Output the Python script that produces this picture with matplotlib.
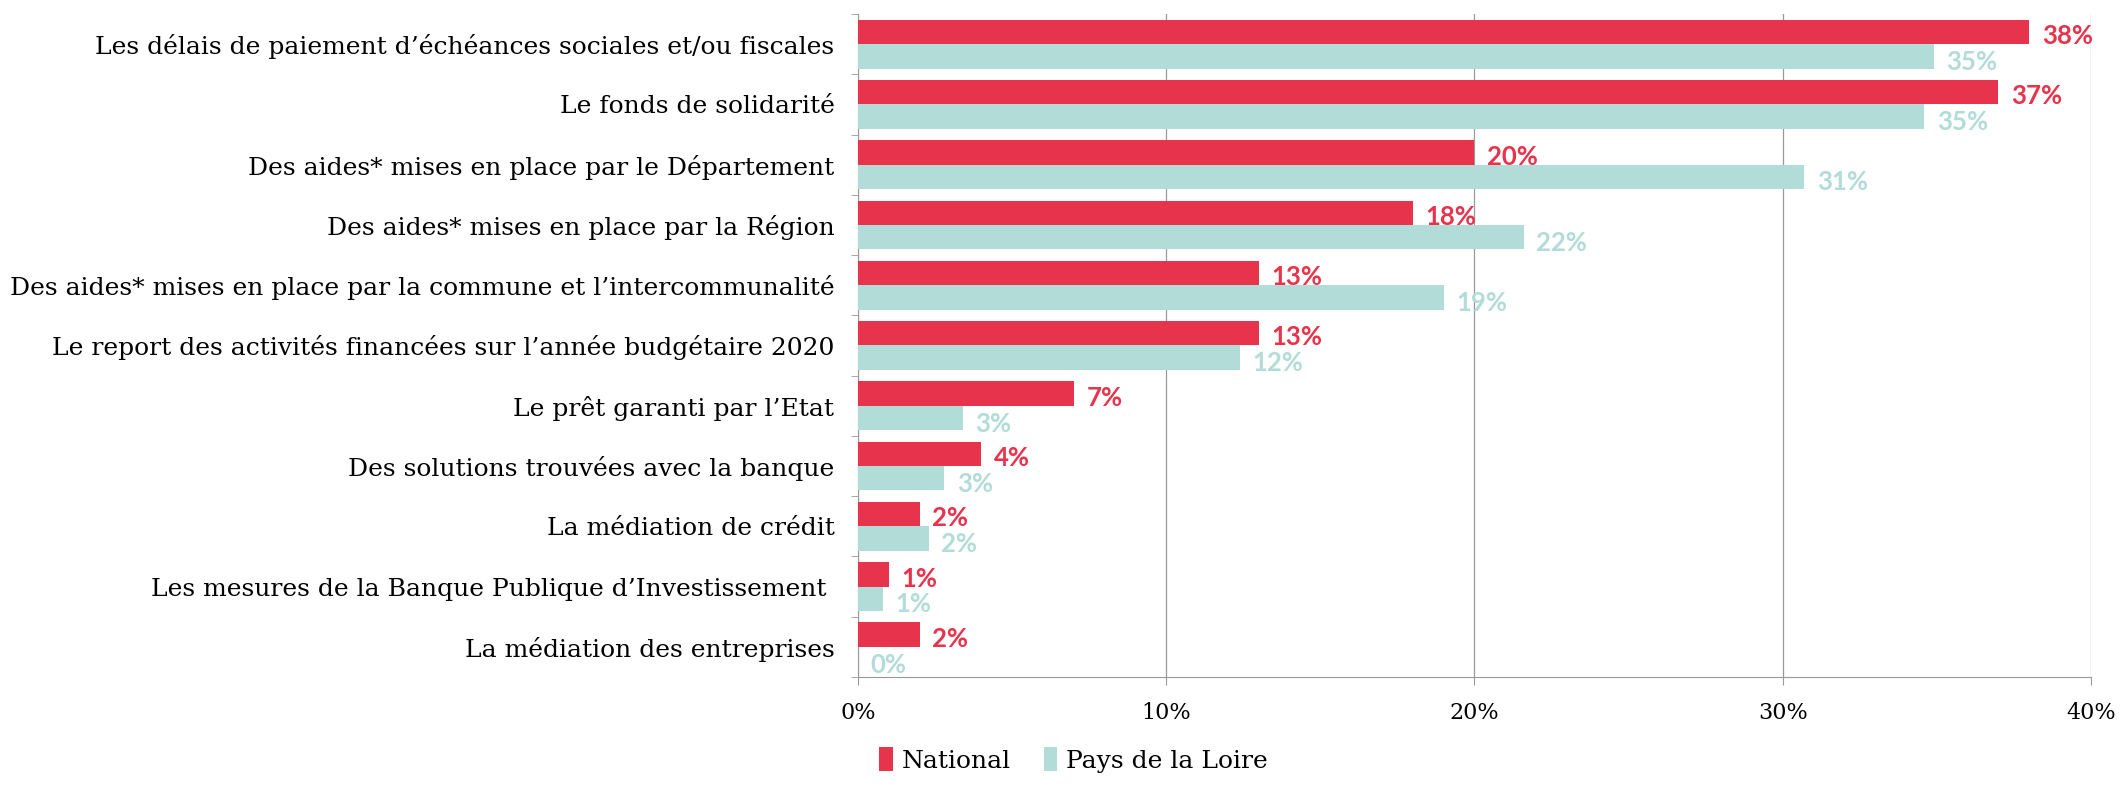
import numpy as np
import matplotlib.pyplot as plt
from matplotlib.ticker import FuncFormatter, FixedLocator

# Données
categories = [
    "Les délais de paiement d’échéances sociales et/ou fiscales",
    "Le fonds de solidarité",
    "Des aides* mises en place par le Département",
    "Des aides* mises en place par la Région",
    "Des aides* mises en place par la commune et l’intercommunalité",
    "Le report des activités financées sur l’année budgétaire 2020",
    "Le prêt garanti par l’Etat",
    "Des solutions trouvées avec la banque",
    "La médiation de crédit",
    "Les mesures de la Banque Publique d’Investissement ",
    "La médiation des entreprises",
]
national = [38, 37, 20, 18, 13, 13, 7, 4, 2, 1, 2]
pays_loire = [34.9, 34.6, 30.7, 21.6, 19.0, 12.4, 3.4, 2.8, 2.3, 0.8, 0.0]
national_labels = ["38%", "37%", "20%", "18%", "13%", "13%", "7%", "4%", "2%", "1%", "2%"]
pdl_labels = ["35%", "35%", "31%", "22%", "19%", "12%", "3%", "3%", "2%", "1%", "0%"]

ROUGE = "#E8334C"
VERT = "#B2DCD7"
GRIS = "#999999"

fig = plt.figure(figsize=(21.26, 7.86), dpi=100)
ax = fig.add_axes([0.4036, 0.1387, 0.5799, 0.8435])

y = np.arange(len(categories))
h = 0.405
ax.barh(y - h / 2, national, height=h, color=ROUGE, label="National", zorder=3)
ax.barh(y + h / 2, pays_loire, height=h, color=VERT, label="Pays de la Loire", zorder=3)

# étiquettes de valeurs
for i in range(len(categories)):
    ax.annotate(national_labels[i], (national[i], y[i] - h / 2), xytext=(9, -3),
                textcoords="offset points", va="center", ha="left",
                color=ROUGE, fontsize=18.5, fontweight="bold", family="Lato")
    ax.annotate(pdl_labels[i], (pays_loire[i], y[i] + h / 2), xytext=(9, -4),
                textcoords="offset points", va="center", ha="left",
                color=VERT, fontsize=18.5, fontweight="bold", family="Lato")

ax.set_ylim(len(categories) - 0.5, -0.5)
ax.set_xlim(0, 40)
ax.xaxis.set_major_locator(FixedLocator([0, 10, 20, 30, 40]))
ax.xaxis.set_major_formatter(FuncFormatter(lambda v, p: f"{int(v)}%"))
ax.grid(axis="x", color=GRIS, linewidth=0.9, zorder=0)

ax.set_yticks(y)
ax.set_yticklabels(categories, family="DejaVu Serif", fontsize=18)
ax.set_yticks(np.arange(len(categories) + 1) - 0.5, minor=True)
ax.tick_params(axis="y", which="major", length=0, pad=17)
ax.tick_params(axis="y", which="minor", length=5, color=GRIS)
ax.tick_params(axis="x", length=6, color=GRIS, pad=12, labelsize=16)
for lab in ax.get_xticklabels():
    lab.set_family("DejaVu Serif")

for s in ["top", "right"]:
    ax.spines[s].set_visible(False)
ax.spines["left"].set_color(GRIS)
ax.spines["bottom"].set_color(GRIS)

leg = fig.legend(loc="lower center", bbox_to_anchor=(0.505, -0.012), ncol=2, frameon=False,
                 prop={"family": "DejaVu Serif", "size": 18}, handlelength=0.55,
                 handleheight=1.1, handletextpad=0.35, columnspacing=1.3)

fig.savefig("out.png", dpi=100)
